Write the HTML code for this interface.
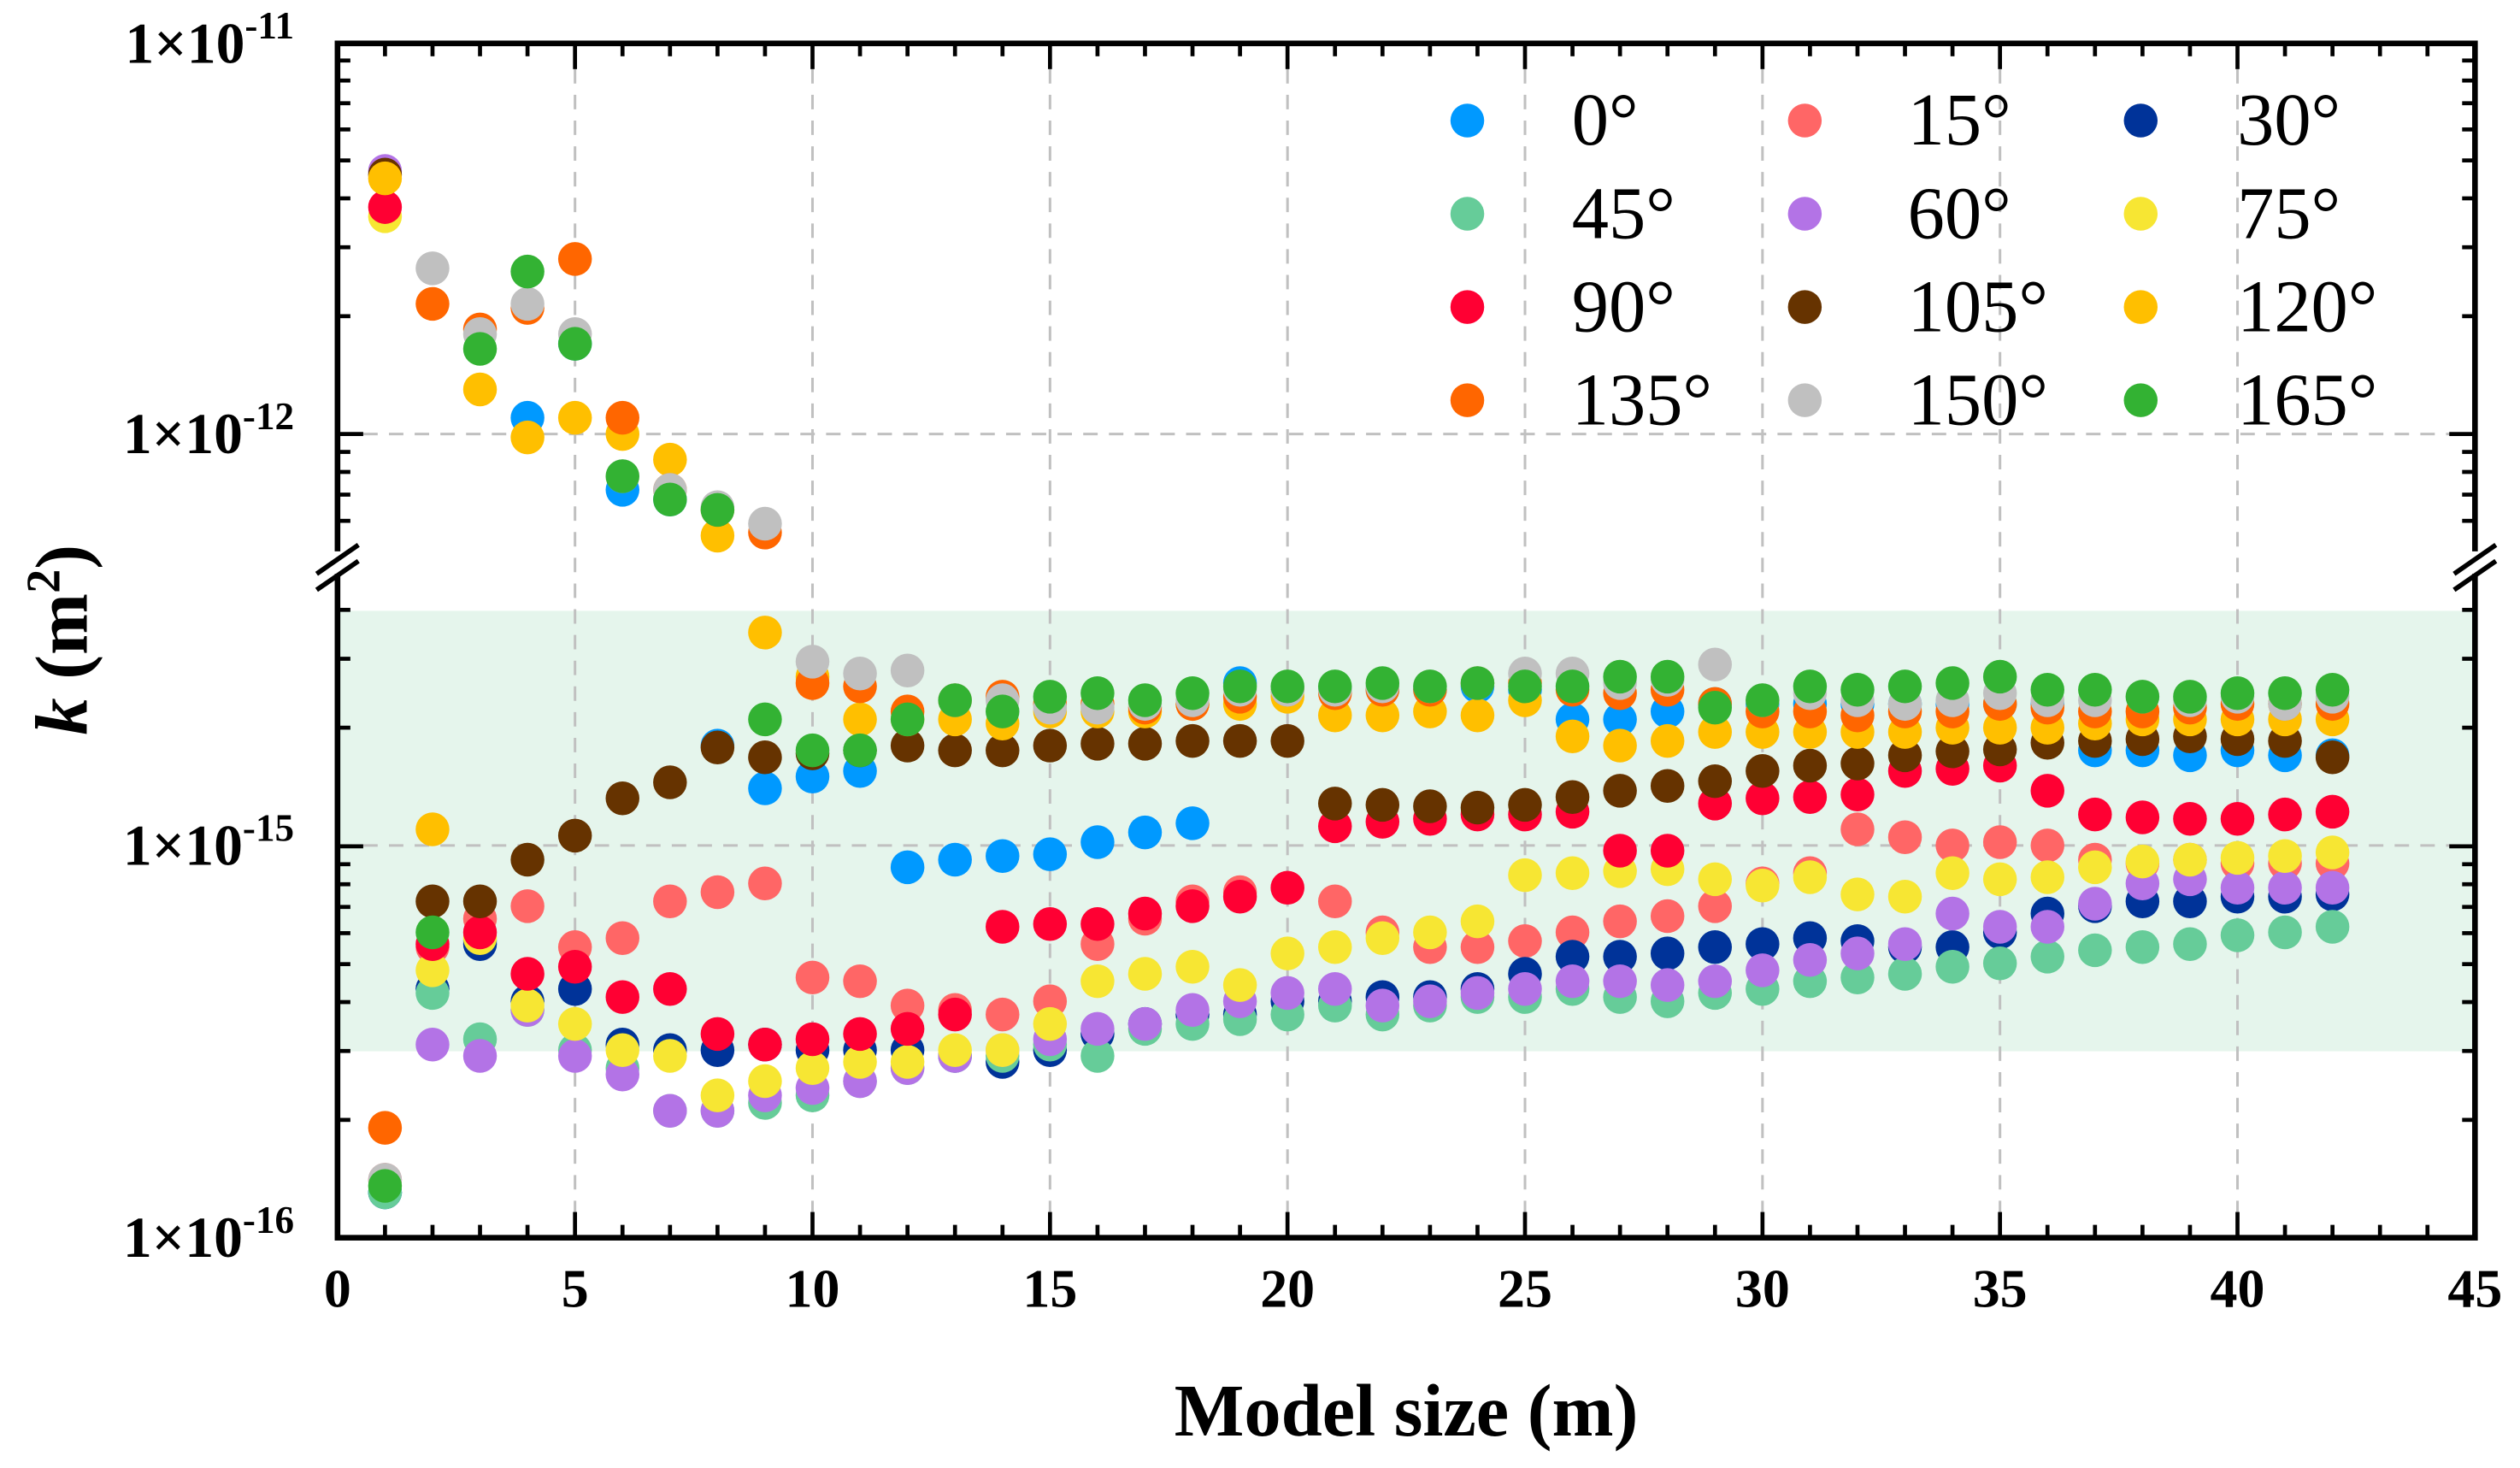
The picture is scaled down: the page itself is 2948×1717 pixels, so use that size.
<!DOCTYPE html>
<html><head><meta charset="utf-8"><style>
html,body{margin:0;padding:0;background:#fff;}
svg{display:block;}
svg text{font-family:"Liberation Serif","DejaVu Serif",serif !important;}
</style></head><body>
<svg id="chart" width="2948" height="1717" viewBox="0 0 1568 913.26" xmlns="http://www.w3.org/2000/svg" font-family="Liberation Serif, DejaVu Serif, serif">
<g id="bg"></g><g id="grid"></g><g id="pts"></g><g id="axes"></g><g id="legend"></g>
</svg>
<script>
// values in units of 1e-15 m^2
const sizes = [1,2,3,4,5,6,7,8,9,10,11,12,13,14,15,16,17,18,19,20,21,22,23,24,25,26,27,28,29,30,31,32,33,34,35,36,37,38,39,40,41,42];
const seriesNames = ["0°","15°","30°","45°","60°","75°","90°","105°","120°","135°","150°","165°"];
const seriesColors = ["#0099ff","#ff6666","#003399","#66cc99","#b373e6","#f7e633","#ff0033","#663300","#ffbf00","#ff6600","#c0c0c0","#33b233"];
const s0 = [0.13,0.43,0.57,1100,1700,720,680,1.8,1.4,1.5,1.55,0.88,0.92,0.94,0.95,1.02,1.08,1.14,2.6,2.5,2.5,2.5,2.5,2.55,2.5,2.1,2.1,2.2,2.3,2.3,2.3,2.3,2.3,2.3,2.3,2.3,1.75,1.75,1.7,1.75,1.7,1.7];
const s15 = [0.14,0.55,0.65,0.7,0.55,0.58,0.72,0.76,0.8,0.46,0.45,0.39,0.38,0.37,0.4,0.56,0.65,0.72,0.76,0.78,0.72,0.6,0.55,0.55,0.57,0.6,0.64,0.66,0.7,0.8,0.85,1.1,1.05,1.0,1.02,1.0,0.92,0.9,0.92,0.9,0.9,0.9];
const s30 = [0.13,0.43,0.56,0.4,0.43,0.31,0.3,0.3,0.31,0.3,0.3,0.3,0.29,0.28,0.3,0.33,0.35,0.37,0.37,0.4,0.4,0.41,0.41,0.43,0.47,0.52,0.52,0.53,0.55,0.56,0.58,0.57,0.55,0.55,0.6,0.67,0.7,0.72,0.72,0.74,0.74,0.75];
const s45 = [0.13,0.42,0.32,0.38,0.3,0.27,0.21,0.21,0.22,0.23,0.25,0.27,0.29,0.29,0.31,0.29,0.34,0.35,0.36,0.37,0.39,0.37,0.39,0.41,0.41,0.43,0.41,0.4,0.42,0.43,0.45,0.46,0.47,0.49,0.5,0.52,0.54,0.55,0.56,0.59,0.6,0.62];
const s60 = [4700,0.31,0.29,0.38,0.29,0.26,0.21,0.21,0.23,0.24,0.25,0.27,0.29,0.3,0.32,0.34,0.35,0.38,0.4,0.42,0.43,0.39,0.4,0.42,0.43,0.45,0.45,0.44,0.45,0.48,0.51,0.53,0.56,0.67,0.62,0.62,0.71,0.8,0.82,0.78,0.78,0.78];
const s75 = [3600,0.48,0.58,0.39,0.35,0.3,0.29,0.23,0.25,0.27,0.28,0.28,0.3,0.3,0.35,0.45,0.47,0.49,0.44,0.53,0.55,0.58,0.6,0.64,0.84,0.85,0.86,0.87,0.82,0.79,0.83,0.75,0.74,0.85,0.82,0.83,0.88,0.91,0.92,0.93,0.94,0.96];
const s90 = [3800,0.56,0.6,0.47,0.49,0.41,0.43,0.33,0.31,0.32,0.33,0.34,0.37,0.62,0.63,0.63,0.67,0.7,0.74,0.78,1.12,1.15,1.17,1.2,1.2,1.22,0.97,0.97,1.28,1.32,1.33,1.35,1.55,1.57,1.6,1.38,1.2,1.18,1.17,1.17,1.2,1.22];
const s105 = [4600,0.72,0.72,0.92,1.06,1.32,1.45,1.78,1.68,1.72,1.75,1.8,1.75,1.75,1.8,1.82,1.82,1.85,1.85,1.85,1.28,1.27,1.26,1.25,1.27,1.33,1.38,1.42,1.46,1.55,1.6,1.62,1.7,1.74,1.76,1.83,1.85,1.87,1.9,1.87,1.85,1.68];
const s120 = [4500,1.1,1300,980,1100,1000,860,550,3.5,2.7,2.1,2.1,2.1,2.05,2.2,2.2,2.2,2.3,2.3,2.4,2.15,2.15,2.2,2.15,2.35,1.9,1.8,1.85,1.95,1.95,1.95,1.95,1.95,2.0,2.0,2.0,2.05,2.1,2.1,2.1,2.1,2.1];
const s135 = [0.19,2150,1850,2100,2800,1100,720,640,560,2.6,2.55,2.2,2.35,2.4,2.3,2.3,2.25,2.3,2.4,2.5,2.45,2.5,2.5,2.6,2.6,2.5,2.45,2.5,2.3,2.2,2.2,2.15,2.2,2.2,2.3,2.25,2.2,2.2,2.25,2.3,2.3,2.3];
const s150 = [0.14,2650,1800,2150,1800,780,720,650,590,2.95,2.75,2.8,2.35,2.35,2.25,2.25,2.3,2.35,2.5,2.5,2.5,2.55,2.55,2.6,2.75,2.75,2.6,2.65,2.9,2.35,2.45,2.35,2.3,2.35,2.45,2.35,2.35,2.4,2.35,2.4,2.3,2.4];
const s165 = [0.135,0.6,1650,2600,1700,780,680,640,2.1,1.75,1.75,2.1,2.35,2.2,2.4,2.45,2.35,2.45,2.55,2.55,2.55,2.6,2.55,2.6,2.55,2.55,2.7,2.7,2.25,2.35,2.55,2.5,2.55,2.6,2.7,2.5,2.5,2.4,2.4,2.45,2.45,2.5];
const xTicks = [0,5,10,15,20,25,30,35,40,45];
const seriesData = [s0,s15,s30,s45,s60,s75,s90,s105,s120,s135,s150,s165];

const NS="http://www.w3.org/2000/svg";
const FF="Liberation Serif, DejaVu Serif, serif";
const L=210,R=1540,T=27,B=770,DEC=243.5,BRK=345;
function X(v){return L+(R-L)*v/45;}
function Y(v){
  if(v>=100){ return 270 - DEC*(Math.log10(v)-3); }
  return 526 - DEC*Math.log10(v);
}
function mk(tag,attrs,parent){const e=document.createElementNS(NS,tag);for(const k in attrs)e.setAttribute(k,attrs[k]);if(tag==='text')e.setAttribute('font-family',FF);parent.appendChild(e);return e;}
const bg=document.getElementById('bg'),grid=document.getElementById('grid'),pts=document.getElementById('pts'),axes=document.getElementById('axes'),leg=document.getElementById('legend');

const band=mk('rect',{x:L,y:380,width:R-L,height:274,fill:'#e5f5ec'},bg);



xTicks.slice(1,-1).forEach(t=>{
  const g=mk('line',{x1:X(t),x2:X(t),y1:T,y2:B,stroke:'#c0c0c0','stroke-width':1.6,'stroke-dasharray':'9,7'},grid);
  
  
});
[270,526].forEach(y=>{
  const g=mk('line',{x1:L,x2:R,y1:y,y2:y,stroke:'#c0c0c0','stroke-width':1.6,'stroke-dasharray':'9,7'},grid);
  
  
});

seriesData.forEach((arr,si)=>{
  arr.forEach((v,i)=>{
    const c=mk('circle',{cx:X(sizes[i]),cy:Y(v),r:10.5,fill:seriesColors[si]},pts);
    
    
  });
});

const fr=mk('rect',{x:L,y:T,width:R-L,height:B-T,fill:'none',stroke:'#000','stroke-width':3.5},axes);


for(let v=0;v<=45;v++){
  const len=(v%5===0)?16:8;
  mk('line',{x1:X(v),x2:X(v),y1:B,y2:B-len,stroke:'#000','stroke-width':2.5},axes);
  mk('line',{x1:X(v),x2:X(v),y1:T,y2:T+len,stroke:'#000','stroke-width':2.5},axes);
}
xTicks.forEach(t=>{
  const tx=mk('text',{x:X(t),y:813,'text-anchor':'middle','font-size':34,'font-weight':'bold'},axes);
  tx.textContent=t;
  
  
});
function yt(y,len){
  mk('line',{x1:L,x2:L+len,y1:y,y2:y,stroke:'#000','stroke-width':2.5},axes);
  mk('line',{x1:R,x2:R-len,y1:y,y2:y,stroke:'#000','stroke-width':2.5},axes);
}
for(let m=1;m<=10;m++){ const y=270-DEC*Math.log10(m); yt(y,(m===1||m===10)?16:8); }
for(let m=5;m<=9;m++){ const y=270-DEC*Math.log10(m/10); if(y<BRK-4) yt(y,8); }
for(let m=1;m<=10;m++){ const y=770-DEC*Math.log10(m); yt(y,(m===1||m===10)?16:8); }
for(let m=2;m<=5;m++){ const y=526-DEC*Math.log10(m); if(y>BRK+14) yt(y,8); }
[L,R].forEach(x=>{
  mk('rect',{x:x-4,y:BRK-2,width:8,height:14,fill:'#fff'},axes);
  const b1=mk('line',{x1:x-13,x2:x+13,y1:BRK+12,y2:BRK-6,stroke:'#000','stroke-width':3},axes);
  
  
  mk('line',{x1:x-13,x2:x+13,y1:BRK+22,y2:BRK+4,stroke:'#000','stroke-width':3},axes);
});
const yLabels=[["-11",T],["-12",270],["-15",526],["-16",770]];
yLabels.forEach(([e,y])=>{
  const tx=mk('text',{x:183,y:y+12,'text-anchor':'end','font-size':36,'font-weight':'bold'},axes);
  tx.innerHTML='1×10<tspan dy="-15" font-size="24">'+e+'</tspan>';
  
  
});
const xt=mk('text',{x:875,y:893,'text-anchor':'middle','font-size':46,'font-weight':'bold'},axes);
xt.textContent='Model size (m)';


const ytl=mk('text',{x:0,y:0,'text-anchor':'middle','font-size':46,'font-weight':'bold',transform:'translate(54,398) rotate(-90)'},axes);
ytl.innerHTML='<tspan font-style="italic">k</tspan> (m<tspan dy="-17" font-size="30">2</tspan><tspan dy="17">)</tspan>';



const colX=[913,1123,1332],txX=[978,1187,1392],rowY=[75,133,191,249];
seriesNames.forEach((n,i)=>{
  const r=Math.floor(i/3),c=i%3;
  const g=mk('g',{},leg);
  
  
  mk('circle',{cx:colX[c],cy:rowY[r],r:10.5,fill:seriesColors[i]},g);
  const t=mk('text',{x:txX[c],y:rowY[r]+15,'font-size':46},g);
  t.textContent=n;
});
</script>
</body></html>
